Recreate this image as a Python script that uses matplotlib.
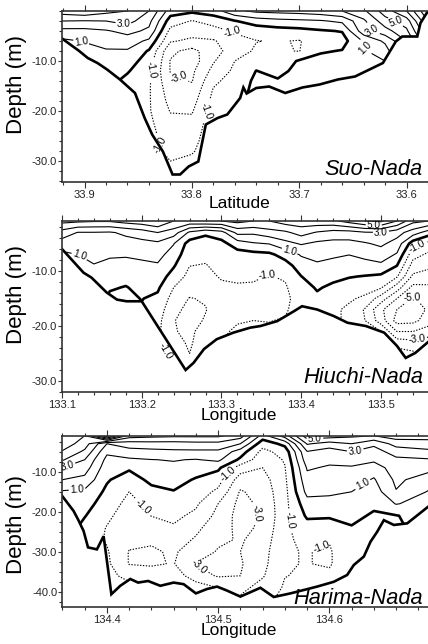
import numpy as np
import pandas as pd
import matplotlib
matplotlib.use("Agg")
import matplotlib.pyplot as plt
from matplotlib.patches import Polygon
from matplotlib.ticker import MultipleLocator, FixedLocator, FormatStrFormatter

plt.rcParams['font.family'] = ['Liberation Sans', 'DejaVu Sans']

# ---------------- Suo-Nada (latitude section) ----------------
suo_x = [33.58, 33.60, 33.62, 33.64, 33.66, 33.68, 33.70, 33.72, 33.74, 33.76,
         33.78, 33.80, 33.82, 33.84, 33.86, 33.88, 33.90, 33.921]
suo_depth = [0, -2, -4, -6, -8, -10, -12, -14, -16, -18, -20, -22, -24, -26, -28, -30, -32, -34]
suo_values = [
    [10.0, 9.0, 8.0, 7.0],
    [7.0, 5.5, 4.8, 4.0],
    [5.5, 4.6, 3.6, 2.2, 1.5, 1.0, 0.9],
    [3.8, 2.8, 2.6, 1.1, 0.9, 0.9, 0.8, 0.8],
    [3.0, 1.2, 0.05, -0.4, 0.05, 0.4, 0.6, 0.7],
    [2.6, 0.9, -0.1, -0.5, -0.1, 0.3, 0.5, 0.6, 0.6],
    [2.4, 0.8, -0.3, -1.06, -1.03, 0.1, 0.3, 0.4, 0.4],
    [2.3, 0.7, -0.4, -0.92, -0.9, -0.6, -0.3, 0.1, 0.2, 0.2],
    [2.2, 0.5, -0.6, -1.03, -0.85, -0.4, 0.02, 0.2, 0.3, 0.3],
    [1.8, -0.05, -0.85, -1.4, -1.5, -1.0, -0.8, -0.6, -0.5, -0.4, -0.3],
    [0.5, -0.6, -1.4, -2.1, -2.4, -2.1, -1.7, -1.2, -0.9, -0.7, -0.5, -0.4],
    [0.2, -1.05, -1.6, -2.2, -3.3, -3.5, -3.2, -3.05, -2.7, -2.4, -2.1, -1.8, -1.5, -1.3, -1.1, -0.8, -0.6],
    [0.5, -0.5, -1.3, -1.9, -2.8, -3.05, -3.05, -2.8, -2.5, -2.3, -2.05, -1.8, -1.6, -1.4, -1.2, -1.0, -0.7, -0.5],
    [3.0, 2.3, 1.8, 0.8, -0.1, -0.5, -0.8, -0.85, -0.9, -0.9, -0.9, -0.8, -0.7],
    [4.0, 3.4, 2.3, 1.5, 0.9, 0.5, 0.1, -0.3, -0.4],
    [4.3, 3.0, 1.9, 1.4, 0.9, 0.6, 0.4],
    [4.8, 2.95, 1.7, 1.05, 0.7],
    [4.5, 3.0, 1.7, 0.8],
]
suo_bottom_x = [33.921, 33.905, 33.897, 33.888, 33.879, 33.867, 33.853, 33.844, 33.837, 33.827,
                33.818, 33.811, 33.803, 33.794, 33.787, 33.776, 33.767, 33.755, 33.752, 33.749,
                33.740, 33.728, 33.713, 33.697, 33.681, 33.664, 33.648, 33.622, 33.610, 33.604,
                33.590, 33.587, 33.580]
suo_bottom_d = [-5.5, -8.0, -9.4, -10.4, -11.7, -13.7, -16.4, -21.4, -24.7, -28.1,
                -32.7, -32.7, -31.1, -30.1, -22.7, -21.4, -20.7, -17.4, -15.3, -16.5,
                -15.4, -15.1, -16.4, -15.3, -14.7, -13.7, -13.1, -10.4, -6.1, -5.1,
                -5.1, -2.4, 0.0]

# ---------------- Hiuchi-Nada (longitude section) ----------------
hiu_x = [133.10, 133.12, 133.14, 133.16, 133.18, 133.20, 133.22, 133.24, 133.26, 133.28,
         133.30, 133.32, 133.34, 133.36, 133.38, 133.40, 133.42, 133.44, 133.46, 133.48,
         133.50, 133.52, 133.54, 133.56]
hiu_depth = [-0.9, -3, -5, -7, -9, -11, -13, -15, -17, -19, -21, -23, -25, -27, -29]
hiu_values = [
    [4.3, 2.6, 1.5, 0.8],
    [4.2, 1.95, 1.5, 1.0, 0.7, 0.6],
    [4.1, 1.95, 1.6, 1.3, 0.95, 0.7, 0.6],
    [4.1, 1.9, 1.5, 1.1, 0.8, 0.5, 0.1, -0.2],
    [4.4, 2.2, 1.6, 1.1, 0.7, 0.3, -0.05, -0.2, -0.2],
    [4.6, 2.5, 1.7, 1.2, 0.8, 0.5, 0.25, 0.03, -0.1],
    [5.0, 3.0, 1.8, 1.3, 0.9, 0.5, 0.15, -0.2, -0.5, -0.7, -0.8],
    [4.0, 2.5, 1.05, 0.6, 0.1, -0.4, -1.0, -1.4, -1.7, -1.95, -1.9, -1.5, -1.2, -1.0],
    [3.8, 0.8, -0.4, -0.7, -0.98, -1.3, -1.6, -2.05, -2.3, -2.4, -2.3, -2.2, -2.0, -1.5, -1.2],
    [4.0, 0.2, -0.5, -0.8, -1.05, -1.3, -1.5, -1.9, -2.05, -1.9, -1.4, -1.2, -1.0],
    [4.0, 0.6, -0.3, -0.5, -0.7, -0.9, -1.2, -1.4, -1.4, -1.3, -1.1, -1.0],
    [4.3, 2.3, 0.5, -0.4, -0.6, -0.85, -1.1, -1.2, -1.2, -1.05, -0.9],
    [4.0, 2.2, 0.9, -0.3, -0.6, -0.9, -1.1, -1.15, -1.15, -1.0, -0.9],
    [4.0, 2.6, 1.05, -0.2, -0.7, -1.05, -1.2, -1.3, -1.2, -1.02, -0.9],
    [4.5, 2.8, 1.7, 0.4, -0.4, -0.9, -1.1, -1.2, -1.1, -0.95],
    [4.6, 3.4, 2.1, 1.1, 0.5, -0.02, -0.4, -0.6, -0.6],
    [4.7, 2.9, 1.8, 1.3, 0.85, 0.5, 0.1, -0.2, -0.3],
    [4.8, 2.6, 1.7, 1.15, 0.7, 0.25, -0.2, -0.5, -0.8, -0.9],
    [5.4, 2.6, 1.7, 1.02, 0.5, 0.05, -0.4, -0.85, -1.2, -1.1, -1.0],
    [6.0, 2.9, 1.9, 1.3, 0.6, -0.05, -0.6, -1.2, -2.1, -2.0, -1.6],
    [6.2, 2.95, 2.2, 1.5, 0.8, -0.2, -0.9, -2.5, -3.8, -3.5, -2.0, -1.5],
    [5.0, 2.4, 1.6, 0.9, 0.02, -0.9, -2.5, -4.0, -5.0, -5.4, -4.0, -2.5, -1.5],
    [3.3, 1.5, -0.5, -1.6, -2.4, -3.2, -4.3, -5.1, -5.7, -5.3, -4.0, -2.7, -1.8],
    [3.0, 0.5, -1.3, -2.2, -2.8, -3.4, -4.2, -4.6, -4.8, -4.5, -3.5, -2.5],
]
hiu_bottom_x = [133.10, 133.127, 133.137, 133.156, 133.169, 133.181, 133.20, 133.255, 133.265,
                133.278, 133.294, 133.315, 133.336, 133.349, 133.37, 133.391, 133.401, 133.42,
                133.441, 133.458, 133.481, 133.504, 133.52, 133.531, 133.543, 133.556, 133.56]
hiu_bottom_d = [-6.0, -10.3, -11.2, -13.9, -15.2, -15.5, -15.5, -28.0, -26.7,
                -24.2, -22.4, -21.2, -20.3, -20.0, -19.1, -17.3, -16.4, -17.0,
                -18.2, -19.4, -20.0, -21.2, -23.6, -25.8, -24.9, -23.3, -22.8]

# ---------------- Harima-Nada (longitude section) ----------------
har_x = [134.36, 134.38, 134.40, 134.42, 134.44, 134.46, 134.48, 134.50, 134.52,
         134.54, 134.56, 134.58, 134.60, 134.62, 134.64, 134.66, 134.69]
har_depth = [-1.0, -3, -5, -7, -9, -12, -15, -18, -21, -24, -27, -30, -33, -36, -39, -42]
har_values = [
    [6.0, 5.6, 4.9, 4.1, 3.0, 2.0, 0.9, 0.6],
    [5.0, 4.5, 3.8, 3.0, 2.5, 1.7, 0.8, 0.4, 0.05, -0.3, -0.5],
    [9.0, 2.0, 1.2, 0.7, 0.4, 0.1, -0.2, -0.5, -0.8, -1.05, -1.1, -0.9, -0.8, -0.8],
    [4.5, 2.5, 1.6, 0.85, 0.15, -0.5, -1.0, -1.3, -1.5, -1.6, -1.7, -2.05, -2.05, -1.2, -0.8],
    [4.3, 2.6, 1.7, 0.98, 0.7, 0.25, -0.3, -0.7, -0.98, -1.5, -1.9, -2.1, -2.1, -1.6, -1.2],
    [4.2, 2.6, 1.8, 1.05, 0.8, 0.4, -0.05, -0.5, -0.8, -1.1, -1.6, -1.9, -1.95, -1.5, -1.2],
    [4.2, 2.7, 1.8, 0.95, 0.5, -0.1, -0.5, -0.85, -1.2, -1.8, -2.1, -2.4, -3.05, -2.5, -1.5, -1.2],
    [4.2, 2.7, 1.8, 1.2, 0.2, -0.6, -1.2, -2.0, -2.3, -2.5, -2.8, -3.1, -3.3, -3.1, -2.0],
    [3.5, 2.0, 0.5, -0.2, -1.5, -2.5, -3.1, -3.3, -3.4, -3.3, -3.1, -3.0, -3.1, -3.0, -2.3, -1.8],
    [0.6, -0.6, -1.3, -1.7, -2.0, -2.4, -2.6, -2.8, -2.9, -2.8, -2.6, -2.4, -2.3, -2.1, -1.6, -1.2],
    [2.5, 0.3, -0.6, -0.9, -1.05, -1.2, -1.3, -1.3, -1.3, -1.2, -1.1, -1.05, -1.05, -1.02, -0.9, -0.8],
    [5.6, 4.1, 2.95, 2.6, 2.1, 1.7, 1.3, 0.6, 0.15, -0.4, -0.85, -0.97, -0.97, -0.9, -0.6, -0.5],
    [5.5, 3.6, 2.5, 2.2, 1.9, 1.5, 1.2, 0.6, 0.1, -0.4, -0.95, -1.1, -1.1, -0.8, -0.6],
    [5.2, 4.0, 3.0, 2.4, 1.9, 1.5, 1.0, 0.6, 0.2, -0.05, -0.3, -0.3, -0.3, -0.3],
    [5.0, 3.2, 2.6, 2.2, 1.5, 0.9, 0.5, 0.15, -0.1, -0.2, -0.2],
    [5.5, 4.4, 3.4, 2.8, 2.5, 2.2, 1.95, 1.05, -0.05, -0.2],
    [5.5, 4.5, 3.8, 2.9, 2.3, 1.5, 0.9, 0.6, 0.5],
]
har_bottom_x = [134.3596, 134.370, 134.374, 134.379, 134.383, 134.391, 134.397, 134.404, 134.412,
                134.421, 134.428, 134.437, 134.448, 134.460, 134.469, 134.480, 134.490, 134.499,
                134.508, 134.520, 134.529, 134.538, 134.550, 134.565, 134.589, 134.604, 134.616,
                134.622, 134.631, 134.637, 134.643, 134.649, 134.658, 134.670, 134.689]
har_bottom_d = [-16.0, -19.8, -21.9, -24.8, -28.9, -29.4, -26.1, -40.6, -38.5,
                -36.8, -37.7, -37.3, -38.5, -37.7, -38.1, -40.4, -39.3, -38.7,
                -39.7, -41.2, -40.1, -39.0, -41.3, -40.4, -38.7, -37.5, -35.8,
                -33.3, -31.2, -27.5, -25.0, -22.1, -23.3, -22.9, -18.7]

levels_pos_odd = [1, 3, 5, 7, 9]
levels_pos_even = [2, 4, 6, 8]
levels_neg_odd = [-5, -3, -1]
levels_neg_even = [-6, -4, -2]
levels_zero = [0]


def build_grid(cols, nrows):
    arr = np.full((nrows, len(cols)), np.nan)
    for j, c in enumerate(cols):
        arr[:len(c), j] = c
    return pd.DataFrame(arr).ffill().to_numpy()


W, H = 428, 644
fig = plt.figure(figsize=(W / 100, H / 100), dpi=100)


def make_axes(top_px):
    return fig.add_axes([62 / W, (H - top_px - 171) / H, 366 / W, 171 / H])


DOT = (0, (1.2, 1.4))


def draw_panel(ax, xs, ds, vals, bx, bd, xlim, ylim, yminor, lab_pos, lab_neg,
               name, name_y, ylab_y, xlabel, xlab_y):
    Z = build_grid(vals, len(ds))
    X, Y = np.meshgrid(xs, ds)
    verts = [(bx[0], 10)] + list(zip(bx, bd)) + [(bx[-1], 10)]
    clip = Polygon(verts, closed=True, facecolor='none', edgecolor='none')
    ax.add_patch(clip)
    cpo = ax.contour(X, Y, Z, levels=levels_pos_odd, colors='k', linewidths=0.8,
                     linestyles='solid')
    cpe = ax.contour(X, Y, Z, levels=levels_pos_even, colors='k', linewidths=0.8,
                     linestyles='solid')
    cno = ax.contour(X, Y, Z, levels=levels_neg_odd, colors='k', linewidths=0.8,
                     linestyles=[DOT])
    cne = ax.contour(X, Y, Z, levels=levels_neg_even, colors='k', linewidths=0.8,
                     linestyles=[DOT])
    cz = ax.contour(X, Y, Z, levels=levels_zero, colors='k', linewidths=1.9,
                    linestyles='solid')
    for cs in (cpo, cpe, cno, cne, cz):
        cs.set_clip_path(clip)
    if lab_pos:
        ax.clabel(cpo, inline=True, manual=lab_pos, fmt='%.1f',
                  fontsize=7.2, inline_spacing=1)
    if lab_neg:
        ax.clabel(cno, inline=True, manual=lab_neg, fmt='%.1f',
                  fontsize=7.2, inline_spacing=1)
    ax.plot(bx, bd, color='k', lw=1.9, solid_joinstyle='miter')
    ax.set_xlim(*xlim)
    ax.set_ylim(*ylim)
    ax.xaxis.set_major_locator(MultipleLocator(0.1))
    ax.xaxis.set_minor_locator(MultipleLocator(0.02))
    ax.xaxis.set_major_formatter(FormatStrFormatter('%.1f'))
    yt = [v for v in (-40, -30, -20, -10) if ylim[0] <= v <= ylim[1]]
    ax.yaxis.set_major_locator(FixedLocator(yt))
    ax.yaxis.set_minor_locator(MultipleLocator(yminor))
    ax.yaxis.set_major_formatter(FormatStrFormatter('%.1f'))
    ax.tick_params(which='both', direction='out', top=True, right=False,
                   labelsize=8, labelcolor='#222222', color='#333333', width=0.8)
    ax.tick_params(which='major', length=4, pad=1.5)
    ax.tick_params(which='minor', length=2.5)
    ax.tick_params(axis='y', which='major', length=3, pad=0.5)
    for s in ('left', 'top', 'bottom'):
        ax.spines[s].set_linewidth(1.2)
        ax.spines[s].set_color('#333333')
    ax.spines['right'].set_visible(False)
    ax.text(0.986, name_y, name, transform=ax.transAxes, ha='right', va='baseline',
            fontsize=15.7, style='italic', color='k')
    ax.set_ylabel('Depth (m)', fontsize=16)
    ax.yaxis.set_label_coords(-0.095, ylab_y)
    ax.set_xlabel(xlabel, fontsize=12.5)
    ax.xaxis.set_label_coords(0.484, xlab_y)


ax1 = make_axes(11)
draw_panel(ax1, suo_x, suo_depth, suo_values, suo_bottom_x, suo_bottom_d,
           (33.921, 33.580), (-34.2, 0), 2,
           [(33.864, -3.1), (33.903, -6.0), (33.611, -2.7), (33.633, -4.2), (33.637, -6.9)],
           [(33.763, -4.4), (33.838, -11.7), (33.814, -15.1), (33.789, -19.7), (33.829, -26.7)],
           'Suo-Nada', 0.043, 0.573, 'Latitude', -0.082)

ax2 = make_axes(221)
draw_panel(ax2, hiu_x, hiu_depth, hiu_values, hiu_bottom_x, hiu_bottom_d,
           (133.1, 133.559), (-32.0, -0.9), 2,
           [(133.491, -1.3), (133.50, -3.0), (133.386, -6.0), (133.12, -7.9)],
           [(133.357, -10.6), (133.238, -23.9), (133.546, -6.0), (133.54, -15.0), (133.545, -21.5)],
           'Hiuchi-Nada', 0.054, 0.573, 'Longitude', -0.094)

ax3 = make_axes(436)
draw_panel(ax3, har_x, har_depth, har_values, har_bottom_x, har_bottom_d,
           (134.3596, 134.6887), (-43.8, -1.07), 2.5,
           [(134.364, -8.3), (134.373, -13.3), (134.587, -2.3), (134.623, -4.4), (134.626, -10.6)],
           [(134.43, -19.4), (134.514, -12.5), (134.533, -20.6), (134.562, -22.3),
            (134.484, -33.2), (134.592, -28.2)],
           'Harima-Nada', 0.018, 0.485, 'Longitude', -0.094)

fig.savefig('out.png', dpi=100)
